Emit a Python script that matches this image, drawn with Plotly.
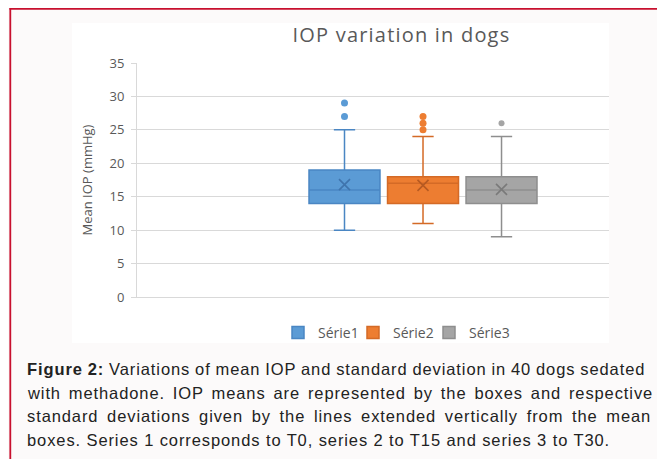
import plotly.graph_objects as go

# ---- data ----
series = ["Série1", "Série2", "Série3"]
q1 = [14, 14, 14]
median = [16, 17, 16]
q3 = [19, 18, 18]
lower_whisker = [10, 11, 9]
upper_whisker = [25, 24, 24]
means = [16.8, 16.7, 16.1]
outliers = [[27, 29], [25, 26, 27], [26]]
y_ticks = [0, 5, 10, 15, 20, 25, 30, 35]

fill_colors = ["#5b9bd5", "#ed7d31", "#a5a5a5"]
line_colors = ["#4a86c3", "#d46a26", "#8e8e8e"]
mean_colors = ["#3f74ad", "#b65a22", "#7a7a7a"]

title_text = "IOP variation in dogs"
y_title = "Mean IOP (mmHg)"
caption_lines = [
    "<b>Figure 2:</b> Variations of mean IOP and standard deviation in 40 dogs sedated",
    "with methadone. IOP means are represented by the boxes and respective",
    "standard deviations given by the lines extended vertically from the mean",
    "boxes. Series 1 corresponds to T0, series 2 to T15 and series 3 to T30.",
]

# ---- layout geometry (window pixels; the page body adds an 8px offset) ----
OFF = 8
W, H = 665 - OFF, 459 - OFF
L, R, T, B = 137, 609, 63, 297  # plot area in window pixels


def xp(px):
    return (px - L) / (R - L)


def yp(py):
    return (B - py) / (B - T)


legend_ids = ["legend", "legend2", "legend3"]
legend_left = [278, 353, 429]

fig = go.Figure()

for i, name in enumerate(series):
    fig.add_trace(go.Box(
        name=name, x=[name],
        q1=[q1[i]], median=[median[i]], q3=[q3[i]],
        lowerfence=[lower_whisker[i]], upperfence=[upper_whisker[i]],
        fillcolor=fill_colors[i],
        line=dict(color=line_colors[i], width=1.5),
        whiskerwidth=0.3, width=0.904,
        boxpoints=False, hoverinfo="skip",
        legend=legend_ids[i],
    ))

for i, name in enumerate(series):
    fig.add_trace(go.Scatter(
        x=[name] * len(outliers[i]), y=outliers[i], mode="markers",
        marker=dict(color=fill_colors[i], size=7 if i < 2 else 6,
                    line=dict(width=0)),
        showlegend=False, hoverinfo="skip",
    ))

fig.add_trace(go.Scatter(
    x=series, y=means, mode="markers",
    marker=dict(symbol="x-thin", size=11,
                line=dict(color=mean_colors, width=1.6)),
    showlegend=False, hoverinfo="skip",
))

chart_font = "Open Sans"
text_grey = "#595959"
grid = "#d9d9d9"

legend_style = dict(
    orientation="h", xanchor="left", y=yp(333), yanchor="middle",
    font=dict(family=chart_font, size=14, color=text_grey),
    bgcolor="rgba(0,0,0,0)", itemwidth=30,
)

fig.update_layout(
    width=W, height=H,
    margin=dict(l=L - OFF, r=W - (R - OFF), t=T - OFF, b=H - (B - OFF), pad=0),
    paper_bgcolor="#fcfafa",
    plot_bgcolor="#ffffff",
    boxmode="overlay",
    font=dict(family=chart_font, color=text_grey),
    title=dict(
        text="<span style='letter-spacing:1.2px'>" + title_text + "</span>",
        x=xp(401.5), xref="paper", xanchor="center",
        y=1 - (34.5 - OFF) / H, yref="container", yanchor="middle",
        font=dict(family=chart_font, size=20, color=text_grey),
    ),
    showlegend=True,
    legend=dict(x=xp(legend_left[0]), **legend_style),
    legend2=dict(x=xp(legend_left[1]), **legend_style),
    legend3=dict(x=xp(legend_left[2]), **legend_style),
    xaxis=dict(
        type="category", categoryorder="array", categoryarray=series,
        range=[-2.643, 3.369], showticklabels=False, ticks="",
        showgrid=False, zeroline=False,
        showline=True, linecolor=grid, linewidth=1,
    ),
    yaxis=dict(
        range=[0, 35], tickvals=y_ticks, showgrid=True, gridcolor=grid,
        gridwidth=1, zeroline=False, showline=True, linecolor=grid,
        linewidth=1, ticks="outside", ticklen=5, tickcolor=grid,
        ticklabelstandoff=4,
        tickfont=dict(family=chart_font, size=13, color=text_grey),
        title=dict(text=y_title, standoff=13,
                   font=dict(family=chart_font, size=13, color=text_grey)),
    ),
)

# background panel and the page border
fig.add_shape(type="rect", xref="paper", yref="paper",
              x0=xp(72), x1=xp(609), y0=yp(343), y1=yp(23),
              fillcolor="#ffffff", line=dict(width=0), layer="below")
border = "#c8102e"
fig.add_shape(type="line", xref="paper", yref="paper",
              x0=xp(9.5), x1=xp(670), y0=yp(8.8), y1=yp(8.8),
              line=dict(color=border, width=1.8))
fig.add_shape(type="line", xref="paper", yref="paper",
              x0=xp(10.3), x1=xp(10.3), y0=yp(8), y1=yp(470),
              line=dict(color=border, width=1.8))

# caption
word_spacing = [-0.6, 2.4, 3.2, 0]
line_centres = [369, 392.5, 416, 439.5]
for txt, ws, yc in zip(caption_lines, word_spacing, line_centres):
    fig.add_annotation(
        text=f"<span style='letter-spacing:0.9px;word-spacing:{ws}px'>{txt}</span>",
        xref="paper", yref="paper", x=xp(25), y=yp(yc),
        xanchor="left", yanchor="middle", showarrow=False, align="left",
        font=dict(family="Liberation Sans", size=16.5, color="#222222"),
    )

fig.write_html("out.html")
